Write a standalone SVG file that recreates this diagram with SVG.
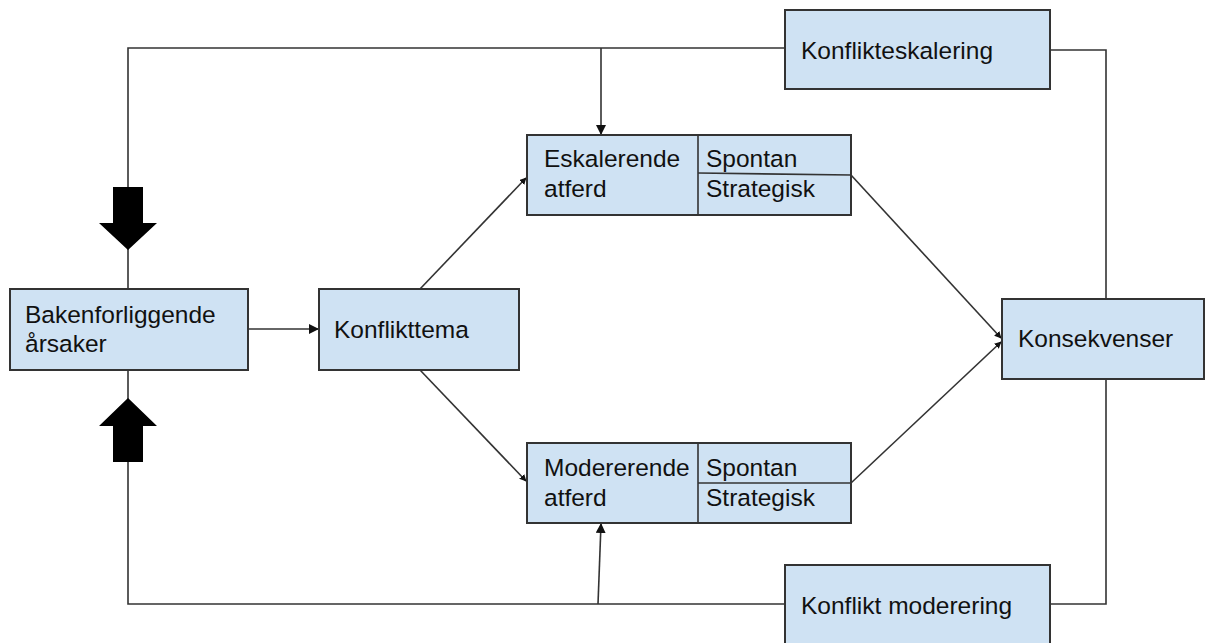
<svg xmlns="http://www.w3.org/2000/svg" width="1206" height="643" viewBox="0 0 1206 643">
<defs>
<style>
.box{fill:#cfe2f3;stroke:#333;stroke-width:2}
.ln{fill:none;stroke:#333;stroke-width:1.6}
.t{font-family:"Liberation Sans",Arial,sans-serif;font-size:24.5px;fill:#111}
</style>
<marker id="ah" viewBox="0 0 10 10" refX="9" refY="5" markerWidth="7" markerHeight="7" markerUnits="userSpaceOnUse" orient="auto"><path d="M0,0 L10,5 L0,10 z" fill="#111"/></marker>
<marker id="ah2" viewBox="0 0 10 10" refX="9" refY="5" markerWidth="10" markerHeight="10" markerUnits="userSpaceOnUse" orient="auto"><path d="M0,0 L10,5 L0,10 z" fill="#111"/></marker>
</defs>
<rect width="1206" height="643" fill="#fff"/>
<g id="connectors">
<polyline class="ln" points="785,48 128,48 128,289"/>
<polyline class="ln" points="1050,50 1106,50 1106,299"/>
<polyline class="ln" points="1050,604 1106,604 1106,379"/>
<polyline class="ln" points="785,604 128,604 128,370"/>
<line class="ln" x1="601" y1="48" x2="601" y2="134" marker-end="url(#ah2)"/>
<line class="ln" x1="598" y1="604" x2="601" y2="524" marker-end="url(#ah2)"/>
<line class="ln" x1="248" y1="329" x2="318" y2="329" marker-end="url(#ah2)"/>
<line class="ln" x1="420" y1="289" x2="526" y2="178" marker-end="url(#ah)"/>
<line class="ln" x1="420" y1="370" x2="526" y2="481" marker-end="url(#ah)"/>
<line class="ln" x1="851" y1="175" x2="1001" y2="338" marker-end="url(#ah)"/>
<line class="ln" x1="851" y1="483" x2="1001" y2="342" marker-end="url(#ah)"/>
<path d="M113,187 L143,187 L143,223 L157,223 L128,250 L99,223 L113,223 Z" fill="#000"/>
<path d="M113,462 L143,462 L143,426 L157,426 L128,398 L99,426 L113,426 Z" fill="#000"/>
</g>
<g id="bakenforliggende">
<rect class="box" x="10" y="289" width="238" height="81"/>
<text class="t" x="25" y="323">Bakenforliggende</text>
<text class="t" x="25" y="352">årsaker</text>
</g>
<g id="konflikttema">
<rect class="box" x="319" y="289" width="200" height="81"/>
<text class="t" x="334" y="338">Konflikttema</text>
</g>
<g id="eskalerende">
<rect class="box" x="527" y="135" width="324" height="80"/>
<line class="ln" x1="698" y1="135" x2="698" y2="215"/>
<line class="ln" x1="698" y1="173" x2="851" y2="175"/>
<text class="t" x="544" y="167">Eskalerende</text>
<text class="t" x="544" y="197">atferd</text>
<text class="t" x="706" y="167">Spontan</text>
<text class="t" x="706" y="197">Strategisk</text>
</g>
<g id="modererende">
<rect class="box" x="527" y="443" width="324" height="80"/>
<line class="ln" x1="698" y1="443" x2="698" y2="523"/>
<line class="ln" x1="698" y1="483" x2="851" y2="483"/>
<text class="t" x="544" y="476">Modererende</text>
<text class="t" x="544" y="506">atferd</text>
<text class="t" x="706" y="476">Spontan</text>
<text class="t" x="706" y="506">Strategisk</text>
</g>
<g id="konsekvenser">
<rect class="box" x="1002" y="299" width="202" height="80"/>
<text class="t" x="1018" y="347">Konsekvenser</text>
</g>
<g id="konflikteskalering">
<rect class="box" x="785" y="10" width="265" height="79"/>
<text class="t" x="801" y="59">Konflikteskalering</text>
</g>
<g id="konfliktmoderering">
<rect class="box" x="785" y="565" width="265" height="90"/>
<text class="t" x="801" y="614">Konflikt moderering</text>
</g>
</svg>
